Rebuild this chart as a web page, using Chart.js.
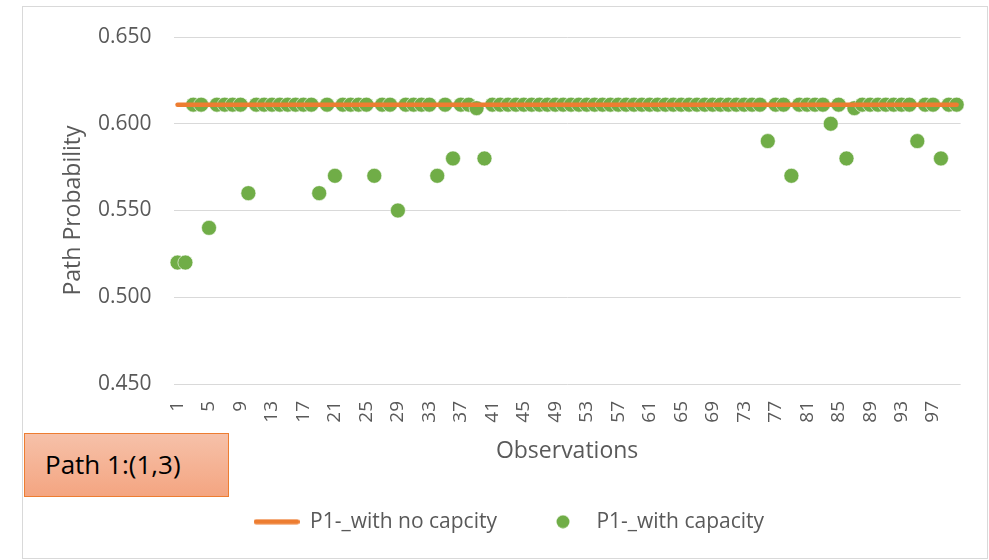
<!DOCTYPE html>
<html>
<head>
<meta charset="utf-8">
<script src="https://cdn.jsdelivr.net/npm/chart.js@4.4.1/dist/chart.umd.min.js"></script>
<style>
  body { margin: 0; background: #fff; }
  #frame { position: absolute; left: 22px; top: 6px; width: 964px; height: 551px; border: 1px solid #d9d9d9; }
  #label-box {
    position: absolute; left: 24px; top: 433px; width: 205px; height: 64px;
    box-sizing: border-box;
    border: 1px solid #ED7D31;
    background: linear-gradient(#F6C1A9, #F4A581);
    font-family: 'Open Sans', sans-serif; font-size: 26px; color: #000;
    line-height: 60px; padding-left: 20px;
  }
</style>
</head>
<body>
<div id="frame"><canvas id="chart" width="964" height="551"></canvas></div>
<div id="label-box">Path 1:(1,3)</div>
<script>
const observations = [];
for (let i = 1; i <= 100; i++) observations.push(String(i));

// P1 without capacity constraint (flat)
const noCapacity = [
  0.611, 0.611, 0.611, 0.611, 0.611, 0.611, 0.611, 0.611, 0.611, 0.611,
  0.611, 0.611, 0.611, 0.611, 0.611, 0.611, 0.611, 0.611, 0.611, 0.611,
  0.611, 0.611, 0.611, 0.611, 0.611, 0.611, 0.611, 0.611, 0.611, 0.611,
  0.611, 0.611, 0.611, 0.611, 0.611, 0.611, 0.611, 0.611, 0.611, 0.611,
  0.611, 0.611, 0.611, 0.611, 0.611, 0.611, 0.611, 0.611, 0.611, 0.611,
  0.611, 0.611, 0.611, 0.611, 0.611, 0.611, 0.611, 0.611, 0.611, 0.611,
  0.611, 0.611, 0.611, 0.611, 0.611, 0.611, 0.611, 0.611, 0.611, 0.611,
  0.611, 0.611, 0.611, 0.611, 0.611, 0.611, 0.611, 0.611, 0.611, 0.611,
  0.611, 0.611, 0.611, 0.611, 0.611, 0.611, 0.611, 0.611, 0.611, 0.611,
  0.611, 0.611, 0.611, 0.611, 0.611, 0.611, 0.611, 0.611, 0.611, 0.611
];

// P1 with capacity constraint
const withCapacity = [
  0.520, 0.520, 0.611, 0.611, 0.540, 0.611, 0.611, 0.611, 0.611, 0.560,
  0.611, 0.611, 0.611, 0.611, 0.611, 0.611, 0.611, 0.611, 0.560, 0.611,
  0.570, 0.611, 0.611, 0.611, 0.611, 0.570, 0.611, 0.611, 0.550, 0.611,
  0.611, 0.611, 0.611, 0.570, 0.611, 0.580, 0.611, 0.611, 0.609, 0.580,
  0.611, 0.611, 0.611, 0.611, 0.611, 0.611, 0.611, 0.611, 0.611, 0.611,
  0.611, 0.611, 0.611, 0.611, 0.611, 0.611, 0.611, 0.611, 0.611, 0.611,
  0.611, 0.611, 0.611, 0.611, 0.611, 0.611, 0.611, 0.611, 0.611, 0.611,
  0.611, 0.611, 0.611, 0.611, 0.611, 0.590, 0.611, 0.611, 0.570, 0.611,
  0.611, 0.611, 0.611, 0.600, 0.611, 0.580, 0.609, 0.611, 0.611, 0.611,
  0.611, 0.611, 0.611, 0.611, 0.590, 0.611, 0.611, 0.580, 0.611, 0.611
];

const seriesNames = ['P1-_with no capcity', 'P1-_with capacity'];
const yTicks = { min: 0.45, max: 0.65, step: 0.05 };

const orange = '#ED7D31';
const green = '#70AD47';
const grey = '#595959';
Chart.defaults.font.family = "'Open Sans', sans-serif";
Chart.defaults.color = grey;

// small legend markers (a short thick line and a dot)
function lineMarker() {
  const c = document.createElement('canvas');
  c.width = 46; c.height = 6;
  const g = c.getContext('2d');
  g.strokeStyle = orange; g.lineWidth = 5; g.lineCap = 'round';
  g.beginPath(); g.moveTo(2.5, 3); g.lineTo(43.5, 3); g.stroke();
  return c;
}
function dotMarker() {
  const c = document.createElement('canvas');
  c.width = 14; c.height = 14;
  const g = c.getContext('2d');
  g.fillStyle = green;
  g.beginPath(); g.arc(7, 7, 6.5, 0, Math.PI * 2); g.fill();
  return c;
}
const markers = [lineMarker(), dotMarker()];

const ctx = document.getElementById('chart').getContext('2d');
new Chart(ctx, {
  type: 'line',
  data: {
    labels: observations,
    datasets: [
      {
        label: seriesNames[0],
        data: noCapacity,
        borderColor: orange,
        backgroundColor: orange,
        borderWidth: 4.5,
        borderCapStyle: 'round',
        pointRadius: 0,
        tension: 0
      },
      {
        label: seriesNames[1],
        data: withCapacity,
        showLine: false,
        backgroundColor: green,
        borderColor: '#ffffff',
        pointRadius: 7.5,
        pointStyle: 'circle',
        pointBackgroundColor: green,
        pointBorderColor: '#ffffff',
        pointBorderWidth: 0.6
      }
    ]
  },
  options: {
    responsive: false,
    animation: false,
    events: [],
    layout: { padding: { left: 34, right: 26.4, top: 30, bottom: 15.8 } },
    plugins: {
      tooltip: { enabled: false },
      legend: {
        position: 'bottom',
        maxHeight: 74,
        labels: {
          usePointStyle: true,
          pointStyleWidth: 46,
          boxHeight: 9,
          padding: 43,
          color: grey,
          font: { size: 21 },
          sort: (a, b) => a.datasetIndex - b.datasetIndex,
          generateLabels: chart => Chart.defaults.plugins.legend.labels.generateLabels(chart).map(item => {
            item.pointStyle = markers[item.datasetIndex];
            return item;
          })
        }
      }
    },
    scales: {
      x: {
        offset: true,
        grid: { display: false, drawTicks: false },
        border: { display: false },
        ticks: {
          autoSkip: false,
          minRotation: 90,
          maxRotation: 90,
          padding: 17,
          color: grey,
          font: { size: 19 },
          callback: (value, index) => index % 4 === 0 ? observations[index] : ''
        },
        title: { display: true, text: 'Observations', color: grey, font: { size: 23 }, padding: { top: 0, bottom: 2.9 } },
        afterFit: scale => {
          scale.height = 84.2;
          scale.paddingLeft = 0;
          scale.paddingRight = 0;
        }
      },
      y: {
        min: yTicks.min,
        max: yTicks.max,
        grid: { color: '#D9D9D9', lineWidth: 1, drawTicks: false },
        border: { display: false },
        ticks: {
          stepSize: yTicks.step,
          padding: 22,
          color: grey,
          font: { size: 21 },
          callback: v => v.toFixed(3)
        },
        title: { display: true, text: 'Path Probability', color: grey, font: { size: 23 }, padding: { top: 2.2, bottom: 0 } },
        afterFit: scale => {
          scale.width = 116.6;
          scale.paddingTop = 0;
          scale.paddingBottom = 0;
        }
      }
    }
  }
});
</script>
</body>
</html>
